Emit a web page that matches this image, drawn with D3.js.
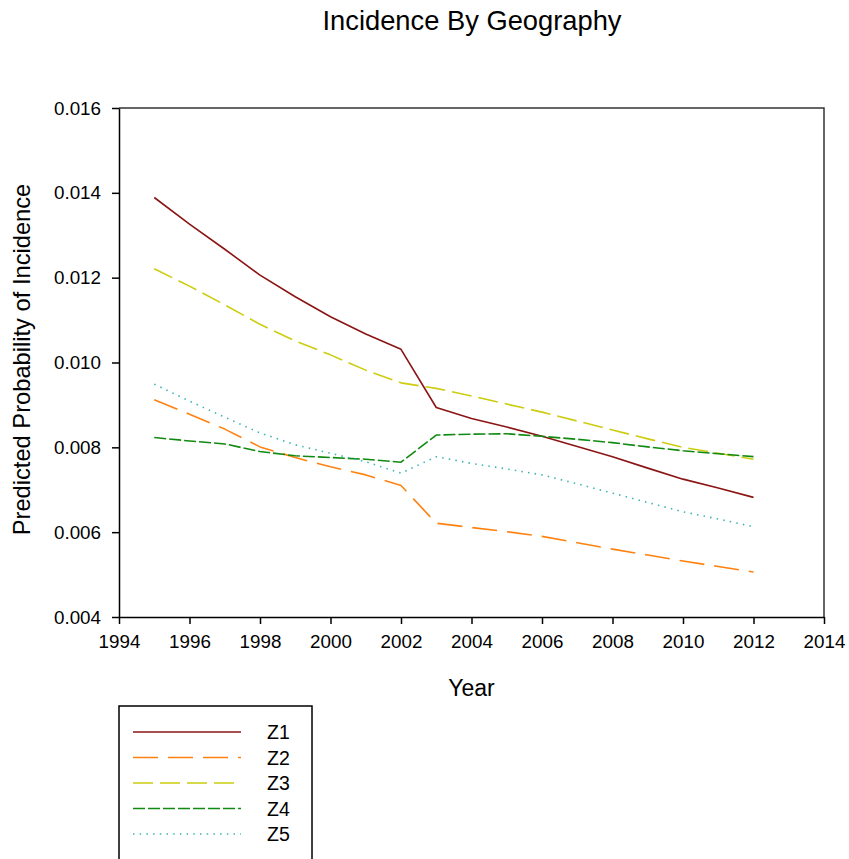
<!DOCTYPE html>
<html>
<head>
<meta charset="utf-8">
<script src="https://cdn.jsdelivr.net/npm/d3@7"></script>
<style>
  html, body { margin: 0; padding: 0; background: #fff; }
  svg { display: block; font-family: "Liberation Sans", Arial, sans-serif; }
</style>
</head>
<body>
<svg id="chart" width="849" height="859"></svg>
<script>
// Years on the x axis
const years = [1995, 1996, 1997, 1998, 1999, 2000, 2001, 2002, 2003, 2004, 2005, 2006, 2007, 2008, 2009, 2010, 2011, 2012];

// Predicted probability of incidence per zone
const z1 = [0.01389, 0.01326, 0.01267, 0.01206, 0.01155, 0.01108, 0.01067, 0.01031, 0.00894, 0.00868, 0.00848, 0.00826, 0.00802, 0.00778, 0.00751, 0.00725, 0.00704, 0.00682];
const z2 = [0.00912, 0.00878, 0.00843, 0.00801, 0.00776, 0.00754, 0.00735, 0.00710, 0.00621, 0.00611, 0.00601, 0.00590, 0.00575, 0.00560, 0.00546, 0.00532, 0.00519, 0.00506];
const z3 = [0.01221, 0.01180, 0.01136, 0.01090, 0.01051, 0.01018, 0.00982, 0.00952, 0.00939, 0.00921, 0.00902, 0.00883, 0.00862, 0.00841, 0.00820, 0.00800, 0.00786, 0.00772];
const z4 = [0.00823, 0.00815, 0.00808, 0.00790, 0.00780, 0.00776, 0.00772, 0.00765, 0.00829, 0.00831, 0.00832, 0.00826, 0.00819, 0.00811, 0.00801, 0.00792, 0.00785, 0.00778];
const z5 = [0.00949, 0.00909, 0.00871, 0.00834, 0.00806, 0.00786, 0.00766, 0.00739, 0.00778, 0.00762, 0.00749, 0.00735, 0.00714, 0.00692, 0.00670, 0.00648, 0.00631, 0.00613];

const seriesNames = ["Z1", "Z2", "Z3", "Z4", "Z5"];

// Tick values
const xTicks = [1994, 1996, 1998, 2000, 2002, 2004, 2006, 2008, 2010, 2012, 2014];
const yTicks = [0.004, 0.006, 0.008, 0.010, 0.012, 0.014, 0.016];

const chartTitle = "Incidence By Geography";
const xTitle = "Year";
const yTitle = "Predicted Probability of Incidence";

// Line styling per series
const styles = [
  { color: "#8b1414", dash: null },
  { color: "#ff8210", dash: "25,10" },
  { color: "#cccc10", dash: "20,7" },
  { color: "#108a10", dash: "12,3" },
  { color: "#3fb2b2", dash: "1.5,5.2" }
];

const seriesData = [z1, z2, z3, z4, z5].map((vals, i) => ({
  name: seriesNames[i],
  style: styles[i],
  points: years.map((yr, j) => ({ year: yr, value: vals[j] }))
}));

const svg = d3.select("#chart");
const plot = { left: 119, right: 824, top: 108, bottom: 617 };

const x = d3.scaleLinear().domain([1994, 2014]).range([plot.left, plot.right]);
const y = d3.scaleLinear().domain([0.004, 0.016]).range([plot.bottom, plot.top]);

// Title
svg.append("text")
  .attr("x", 472).attr("y", 30)
  .attr("text-anchor", "middle")
  .attr("font-size", 27.3)
  .attr("fill", "#000")
  .text(chartTitle);

// Plot frame (top and right sides)
svg.append("path")
  .attr("d", `M${plot.left},${plot.top}H${plot.right}V${plot.bottom}`)
  .attr("fill", "none")
  .attr("stroke", "#333")
  .attr("stroke-width", 1.5);

// Axes
const xAxis = svg.append("g")
  .attr("transform", `translate(0,${plot.bottom})`)
  .call(d3.axisBottom(x).tickValues(xTicks).tickFormat(d3.format("d")).tickSize(7).tickSizeOuter(0).tickPadding(11));
const yAxis = svg.append("g")
  .attr("transform", `translate(${plot.left},0)`)
  .call(d3.axisLeft(y).tickValues(yTicks).tickFormat(d3.format(".3f")).tickSize(7).tickSizeOuter(0).tickPadding(11));

[xAxis, yAxis].forEach(g => {
  g.select(".domain").attr("stroke", "#000").attr("stroke-width", 1.5);
  g.selectAll(".tick line").attr("stroke", "#000").attr("stroke-width", 1.5);
  g.selectAll(".tick text")
    .attr("font-size", 18.8)
    .attr("font-family", "'Liberation Sans', Arial, sans-serif")
    .attr("fill", "#000");
});

// Axis titles
svg.append("text")
  .attr("x", (plot.left + plot.right) / 2).attr("y", 696)
  .attr("text-anchor", "middle")
  .attr("font-size", 23)
  .attr("fill", "#000")
  .text(xTitle);

svg.append("text")
  .attr("transform", `translate(30,${(plot.top + plot.bottom) / 2 - 3}) rotate(-90)`)
  .attr("text-anchor", "middle")
  .attr("font-size", 23.7)
  .attr("fill", "#000")
  .text(yTitle);

// Series lines
const line = d3.line().x(d => x(d.year)).y(d => y(d.value));

svg.append("g").selectAll("path")
  .data(seriesData)
  .join("path")
  .attr("d", d => line(d.points))
  .attr("fill", "none")
  .attr("stroke", d => d.style.color)
  .attr("stroke-width", 1.6)
  .attr("stroke-dasharray", d => d.style.dash)
  .attr("stroke-linejoin", "round");

// Legend
const legend = svg.append("g");
legend.append("rect")
  .attr("x", 119).attr("y", 706)
  .attr("width", 193).attr("height", 200)
  .attr("fill", "#fff")
  .attr("stroke", "#000")
  .attr("stroke-width", 1.5);

const entry = legend.selectAll("g.entry")
  .data(seriesData)
  .join("g")
  .attr("class", "entry")
  .attr("transform", (d, i) => `translate(0,${732 + i * 25.5})`);

entry.append("line")
  .attr("x1", 133).attr("x2", 241)
  .attr("y1", 0).attr("y2", 0)
  .attr("stroke", d => d.style.color)
  .attr("stroke-width", 1.6)
  .attr("stroke-dasharray", d => d.style.dash);

entry.append("text")
  .attr("x", 267).attr("y", 7)
  .attr("font-size", 19.5)
  .attr("fill", "#000")
  .text(d => d.name);
</script>
</body>
</html>
